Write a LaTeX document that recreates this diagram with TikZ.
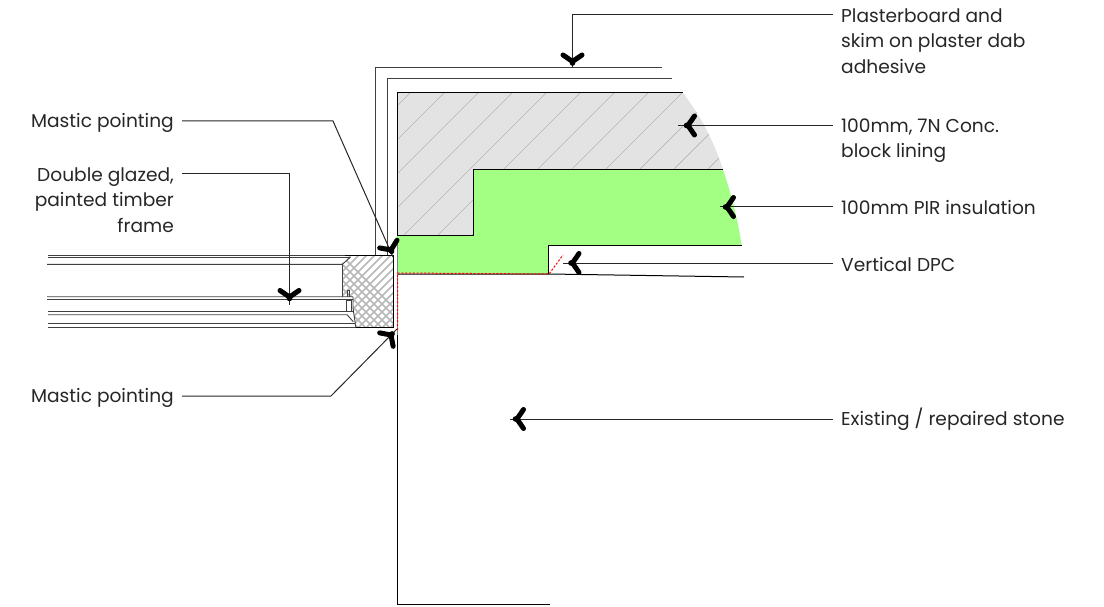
\documentclass[tikz,border=0pt]{standalone}
\usepackage{fontspec}
\setmainfont{Poppins}
\definecolor{pir}{RGB}{162,255,132}
\definecolor{blockgrey}{RGB}{227,227,227}
\definecolor{hatchgrey}{RGB}{180,180,180}
\tikzset{
  lab/.style={inner ysep=0pt,inner xsep=8pt,font=\fontsize{18.6}{25.5}\selectfont,text=black!85},
  labr/.style={lab,align=left},
  labl/.style={lab,align=right},
  leader/.style={draw=black!85,line width=1pt},
  edge/.style={draw=black,line width=1pt},
  thin edge/.style={draw=black!75,line width=.9pt},
  dpc/.style={draw=red,line width=1pt,dash pattern=on 2.2pt off 1.6pt},
  chev/.pic={\draw[black,line width=5pt,line cap=round,line join=round] (-9.5,-6.5) -- (0,0) -- (9.5,-6.5);
             \fill[black] (0,1.5) circle (2.8pt);}
}
\begin{document}
\begin{tikzpicture}[x=1pt,y=-1pt]
\useasboundingbox (0,0) rectangle (1104,607);
% block lining
\def\blockpath{(397,93) -- (683,93) .. controls (703,119) and (715,145) .. (723,169.5) -- (473,169.5) -- (473,235) -- (397,235) -- cycle}
\fill[blockgrey] \blockpath;
\begin{scope}
\clip \blockpath;
\foreach \k in {-1,...,12}{
  \pgfmathsetmacro{\c}{503+34*\k}
  \draw[hatchgrey,line width=.7pt] (\c-60,60) -- (\c-300,300);
}
\end{scope}
% PIR insulation
\fill[pir] (397,235) -- (473,235) -- (473,169.5) -- (723,169.5) .. controls (731,194) and (738,219) .. (741.5,245) -- (548.5,245) -- (548.5,274) -- (397,273) -- cycle;
\draw[edge] (683,93) -- (397,93) -- (397,235) -- (473,235) -- (473,169.5) -- (723,169.5);
\draw[edge] (741.5,245) -- (548.5,245) -- (548.5,274);
% outer plaster lines
\draw[thin edge] (375,255) -- (375,67) -- (662,67);
\draw[thin edge] (387,255) -- (387,78.5) -- (672,78.5);
% stone
\draw[edge] (397,274) -- (549,274) -- (744,277);
\draw[draw=black!50,line width=.8pt] (397.5,240) -- (397.5,335);
\draw[edge] (397.5,335) -- (397.5,604) -- (550,604);
% window frame
\begin{scope}
\clip (350,255) -- (393.5,255) -- (393.5,327) -- (356,327) -- (353,308) -- (353,297) -- (342,296) -- (342,264) -- (345,262) -- cycle;
\foreach \k in {0,...,22}{
  \pgfmathsetmacro{\c}{590+8*\k}
  \draw[black!28,line width=1.7pt] (\c-250,250) -- (\c-340,340);
  \pgfmathsetmacro{\d}{-90+8*\k}
  \draw[black!28,line width=1.7pt] (\d+250,250) -- (\d+340,340);
}
\end{scope}
\draw[thin edge] (48,255) -- (345,255);
\draw[thin edge] (48,327) -- (356,327);
\draw[edge] (345,255) -- (393.5,255) -- (393.5,327) -- (356,327);
\draw[thin edge] (48,257.5) -- (350,257.5) -- (345,262) -- (342,264.3) -- (47,264.3);
\draw[thin edge] (342,264.3) -- (342,296.7);
\draw[thin edge] (347.5,296.7) -- (347.5,290) -- (349.7,290) -- (349.7,296.7);
\draw[thin edge] (47,296.7) -- (353,296.7) -- (353,308) -- (355.8,327);
\draw[thin edge] (47,299.3) -- (353,299.3);
\draw[thin edge] (48,311.7) -- (353,311.7);
\draw[thin edge] (48,314.7) -- (347,314.7) -- (353.3,321.7);
\draw[thin edge] (48,323) -- (354.5,323);
\draw[thin edge] (346.7,300) rectangle (351.7,311.7);
% DPC
\draw[dpc] (397.5,330) -- (397.5,273) -- (549,274) -- (563,255);
% labels
\node[labr,anchor=north west] (plaster) at (833,8.5) {Plasterboard and\\skim on plaster dab\\adhesive};
\node[labr,anchor=north west] (block) at (833,118.5) {100mm, 7N Conc.\\block lining};
\node[labr,anchor=west] (pirlab) at (833,207.5) {100mm PIR insulation};
\node[labr,anchor=west] (dpclab) at (833,264.5) {Vertical DPC};
\node[labr,anchor=west] (stonelab) at (833,419) {Existing / repaired stone};
\node[labl,anchor=east] (masticA) at (182,122.5) {Mastic pointing};
\node[labl,anchor=north east] (glazed) at (182,167.5) {Double glazed,\\painted timber\\frame};
\node[labl,anchor=east] (masticB) at (182,397.5) {Mastic pointing};
% leader targets
\coordinate (ePlaster) at (572.5,15);
\coordinate (tPlaster) at (572.5,68);
\coordinate (tBlock) at (678,125.5);
\coordinate (tPir) at (720,207);
\coordinate (tDpc) at (563,263);
\coordinate (tStone) at (510,419);
\coordinate (eMasticA) at (333,121);
\coordinate (tMasticA) at (393,257);
\coordinate (eMasticB) at (331,396);
\coordinate (tMasticB) at (397,329);
\coordinate (eGlazed) at (289.5,174);
\coordinate (tGlazed) at (289.5,305);
% leaders
\draw[leader] (plaster.west |- ePlaster) -- (ePlaster) -- (tPlaster);
\draw[leader] (block.west |- tBlock) -- (tBlock);
\draw[leader] (pirlab.west |- tPir) -- (tPir);
\draw[leader] (dpclab.west |- tDpc) -- (tDpc);
\draw[leader] (stonelab.west |- tStone) -- (tStone);
\draw[leader] (masticA.east |- eMasticA) -- (eMasticA) -- (tMasticA);
\draw[leader] (glazed.east |- eGlazed) -- (eGlazed) -- (tGlazed);
\draw[leader] (masticB.east |- eMasticB) -- (eMasticB) -- (tMasticB);
% arrowheads
\pic[rotate=0] at (572.5,61.5) {chev};
\pic[rotate=-90] at (688,125.5) {chev};
\pic[rotate=-90] at (727,207) {chev};
\pic[rotate=-90] at (572.5,263) {chev};
\pic[rotate=-90] at (517,419) {chev};
\pic[rotate=0] at (289.5,297) {chev};
\pic[rotate=24] at (391,250) {chev};
\pic[rotate=135] at (391,335) {chev};
\end{tikzpicture}
\end{document}
